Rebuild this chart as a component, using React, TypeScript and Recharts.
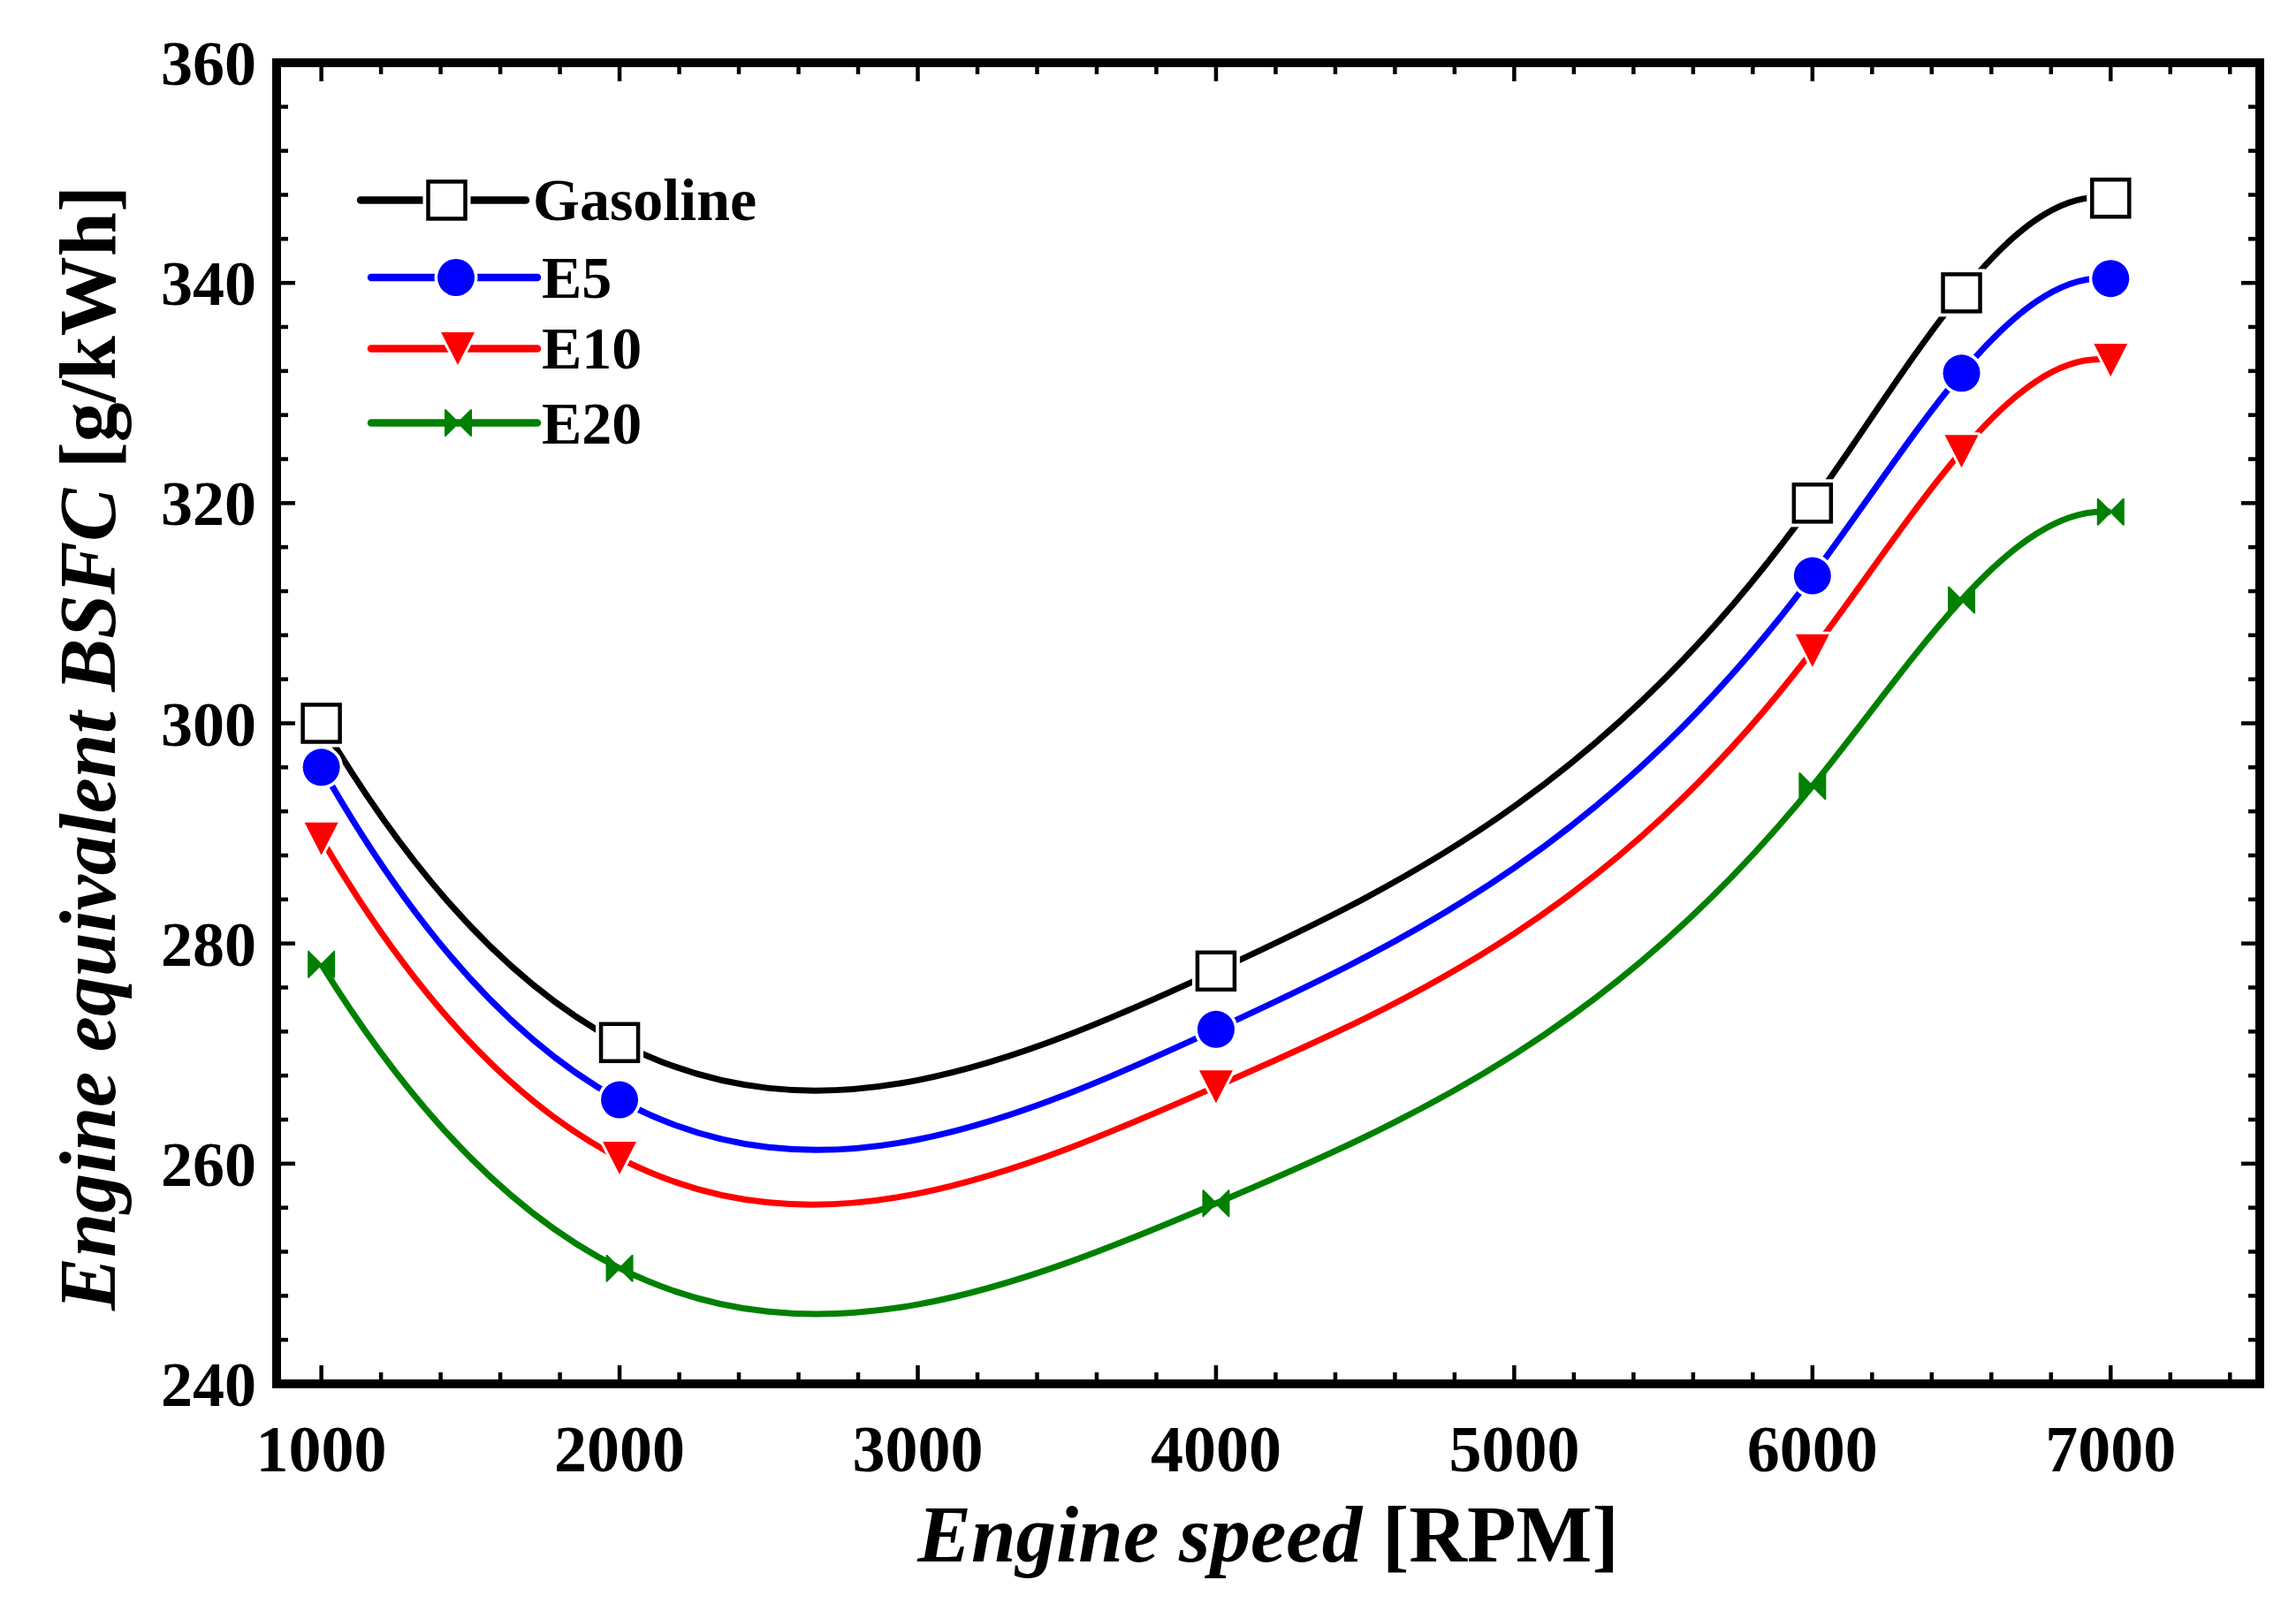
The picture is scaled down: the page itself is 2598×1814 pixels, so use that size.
import { LineChart, Line, XAxis, YAxis, Legend, Label } from 'recharts'

// Engine speed [RPM]
const rpm = [1000, 2000, 4000, 6000, 6500, 7000]
// BSFC values [g/kWh] per fuel
const gasoline = [300, 271, 277.5, 320, 339.1, 347.7]
const e5 = [296, 265.8, 272.2, 313.4, 331.8, 340.4]
const e10 = [289.5, 260.5, 267, 306.6, 324.7, 333]
const e20 = [278.1, 250.5, 256.4, 294.3, 311.2, 319.2]

const xMajorTicks = [1000, 2000, 3000, 4000, 5000, 6000, 7000]
const xMinorTicks = [
  1200, 1400, 1600, 1800, 2200, 2400, 2600, 2800, 3200, 3400, 3600, 3800,
  4200, 4400, 4600, 4800, 5200, 5400, 5600, 5800, 6200, 6400, 6600, 6800,
  7200, 7400,
]
const yMajorTicks = [240, 260, 280, 300, 320, 340, 360]
const yMinorTicks = [
  244, 248, 252, 256, 264, 268, 272, 276, 284, 288, 292, 296,
  304, 308, 312, 316, 324, 328, 332, 336, 344, 348, 352, 356,
]

const data = rpm.map((r, i) => ({
  rpm: r,
  gasoline: gasoline[i],
  e5: e5[i],
  e10: e10[i],
  e20: e20[i],
}))

type MarkerKind = 'square' | 'circle' | 'triangle' | 'bowtie'

const SERIES: { key: string; name: string; color: string; marker: MarkerKind }[] = [
  { key: 'gasoline', name: 'Gasoline', color: '#000000', marker: 'square' },
  { key: 'e5', name: 'E5', color: '#0000ff', marker: 'circle' },
  { key: 'e10', name: 'E10', color: '#ff0000', marker: 'triangle' },
  { key: 'e20', name: 'E20', color: '#008000', marker: 'bowtie' },
]

const FONT = "'Liberation Serif', 'Times New Roman', serif"

// cubic spline y(x) through the points (not-a-knot ends), drawn as bezier pieces
function splineX(context: any) {
  let xs: number[] = []
  let ys: number[] = []
  return {
    areaStart() {},
    areaEnd() {},
    lineStart() {
      xs = []
      ys = []
    },
    point(x: number, y: number) {
      xs.push(+x)
      ys.push(+y)
    },
    lineEnd() {
      const n = xs.length
      if (n === 0) return
      context.moveTo(xs[0], ys[0])
      if (n < 3) {
        for (let i = 1; i < n; i++) context.lineTo(xs[i], ys[i])
        return
      }
      const h: number[] = []
      const d: number[] = []
      for (let i = 0; i < n - 1; i++) {
        h.push(xs[i + 1] - xs[i])
        d.push((ys[i + 1] - ys[i]) / h[i])
      }
      const A = Array.from({ length: n }, () => new Array(n).fill(0))
      const rhs = new Array(n).fill(0)
      if (n >= 4) {
        A[0][0] = h[1]
        A[0][1] = -(h[0] + h[1])
        A[0][2] = h[0]
        A[n - 1][n - 3] = h[n - 2]
        A[n - 1][n - 2] = -(h[n - 3] + h[n - 2])
        A[n - 1][n - 1] = h[n - 3]
      } else {
        A[0][0] = 1
        A[n - 1][n - 1] = 1
      }
      for (let i = 1; i < n - 1; i++) {
        A[i][i - 1] = h[i - 1]
        A[i][i] = 2 * (h[i - 1] + h[i])
        A[i][i + 1] = h[i]
        rhs[i] = 6 * (d[i] - d[i - 1])
      }
      // gaussian elimination with partial pivoting
      for (let col = 0; col < n; col++) {
        let piv = col
        for (let row = col + 1; row < n; row++) {
          if (Math.abs(A[row][col]) > Math.abs(A[piv][col])) piv = row
        }
        ;[A[col], A[piv]] = [A[piv], A[col]]
        ;[rhs[col], rhs[piv]] = [rhs[piv], rhs[col]]
        for (let row = col + 1; row < n; row++) {
          const f = A[row][col] / A[col][col]
          for (let j = col; j < n; j++) A[row][j] -= f * A[col][j]
          rhs[row] -= f * rhs[col]
        }
      }
      const m = new Array(n).fill(0)
      for (let row = n - 1; row >= 0; row--) {
        let s = rhs[row]
        for (let j = row + 1; j < n; j++) s -= A[row][j] * m[j]
        m[row] = s / A[row][row]
      }
      for (let i = 0; i < n - 1; i++) {
        const s0 = d[i] - (h[i] * (2 * m[i] + m[i + 1])) / 6
        const s1 = d[i] + (h[i] * (m[i] + 2 * m[i + 1])) / 6
        context.bezierCurveTo(
          xs[i] + h[i] / 3,
          ys[i] + (s0 * h[i]) / 3,
          xs[i + 1] - h[i] / 3,
          ys[i + 1] - (s1 * h[i]) / 3,
          xs[i + 1],
          ys[i + 1]
        )
      }
    },
  }
}

function Marker({ kind, cx, cy, color }: { kind: MarkerKind; cx: number; cy: number; color: string }) {
  if (kind === 'square') {
    return (
      <g>
        <rect x={cx - 21} y={cy - 21} width={42} height={42} fill="#fff" stroke="#fff" strokeWidth={12} />
        <rect x={cx - 21} y={cy - 21} width={42} height={42} fill="#fff" stroke={color} strokeWidth={4.5} />
      </g>
    )
  }
  if (kind === 'circle') {
    return (
      <g>
        <circle cx={cx} cy={cy} r={21} fill="#fff" stroke="#fff" strokeWidth={7} />
        <circle cx={cx} cy={cy} r={21} fill={color} />
      </g>
    )
  }
  if (kind === 'triangle') {
    const pts = `${cx - 19},${cy - 18.5} ${cx + 19},${cy - 18.5} ${cx},${cy + 18.5}`
    return (
      <g>
        <polygon points={pts} fill="#fff" stroke="#fff" strokeWidth={6} strokeLinejoin="round" />
        <polygon points={pts} fill={color} />
      </g>
    )
  }
  const s = 14.5
  return (
    <g>
      <polygon
        points={`${cx - s},${cy - s} ${cx},${cy} ${cx - s},${cy + s}`}
        fill={color}
        stroke={color}
        strokeWidth={2}
        strokeLinejoin="round"
      />
      <polygon
        points={`${cx + s},${cy - s} ${cx},${cy} ${cx + s},${cy + s}`}
        fill={color}
        stroke={color}
        strokeWidth={2}
        strokeLinejoin="round"
      />
    </g>
  )
}

const XTick = (props: any) => {
  const { x, y, payload } = props
  return (
    <text x={x} y={y + 120} textAnchor="middle" fontFamily={FONT} fontWeight="bold" fontSize={74} fill="#000">
      {payload.value}
    </text>
  )
}

const YTick = (props: any) => {
  const { x, y, payload } = props
  return (
    <text x={x} y={y + 25} textAnchor="end" fontFamily={FONT} fontWeight="bold" fontSize={72} fill="#000">
      {payload.value}
    </text>
  )
}

// tick lines only, no text
const NoLabel = () => <g />

const legendRows = [
  { line: [18, 205], markerX: 115.5, y: 46.5, textX: 213, baseline: 69 },
  { line: [30, 218], markerX: 126, y: 134, textX: 223, baseline: 157 },
  { line: [30, 218], markerX: 128, y: 214.5, textX: 223, baseline: 237 },
  { line: [30, 218], markerX: 128.5, y: 298.5, textX: 223, baseline: 322 },
]

const LegendBox = () => (
  <svg width={520} height={340}>
    {SERIES.map((s, i) => {
      const row = legendRows[i]
      return (
        <g key={s.key}>
          <line
            x1={row.line[0]}
            x2={row.line[1]}
            y1={row.y}
            y2={row.y}
            stroke={s.color}
            strokeWidth={8.5}
            strokeLinecap="round"
          />
          <Marker kind={s.marker} cx={row.markerX} cy={row.y} color={s.color} />
          <text x={row.textX} y={row.baseline} fontFamily={FONT} fontWeight="bold" fontSize={68} fill="#000">
            {s.name}
          </text>
        </g>
      )
    })}
  </svg>
)

const axisLineStyle = { stroke: '#000', strokeWidth: 10, strokeLinecap: 'square' as const }
const tickLineStyle = { stroke: '#000', strokeWidth: 4.5 }

export default function App() {
  return (
    <div style={{ width: 2598, height: 1814, background: '#fff' }}>
      <style>{'body{margin:0;background:#fff}'}</style>
      <LineChart
        width={2598}
        height={1814}
        data={data}
        margin={{ top: 41, right: 11, bottom: 148, left: 213 }}
      >
        {/* bottom: labels + inward major ticks */}
        <XAxis
          xAxisId="x"
          dataKey="rpm"
          type="number"
          domain={[850, 7500]}
          allowDataOverflow
          ticks={xMajorTicks}
          interval={0}
          height={100}
          tickSize={-21}
          tickMargin={0}
          tickLine={tickLineStyle}
          axisLine={axisLineStyle}
          tick={<XTick />}
        >
          <Label
            content={(props: any) => {
              const vb = props.viewBox
              return (
                <text
                  x={vb.x + vb.width / 2}
                  y={vb.y + 201}
                  textAnchor="middle"
                  fontFamily={FONT}
                  fontWeight="bold"
                  fontSize={91}
                  fill="#000"
                >
                  <tspan fontStyle="italic">Engine speed</tspan>
                  <tspan> [RPM]</tspan>
                </text>
              )
            }}
          />
        </XAxis>
        <XAxis
          xAxisId="xMinor"
          dataKey="rpm"
          type="number"
          domain={[850, 7500]}
          allowDataOverflow
          orientation="bottom"
          mirror
          height={1}
          ticks={xMinorTicks}
          interval={0}
          tickSize={13}
          tick={<NoLabel />}
          tickLine={tickLineStyle}
          axisLine={false}
        />
        {/* top frame */}
        <XAxis
          xAxisId="xTop"
          dataKey="rpm"
          type="number"
          domain={[850, 7500]}
          allowDataOverflow
          orientation="top"
          height={30}
          ticks={xMajorTicks}
          interval={0}
          tickSize={-21}
          tick={<NoLabel />}
          tickLine={tickLineStyle}
          axisLine={axisLineStyle}
        />
        <XAxis
          xAxisId="xTopMinor"
          dataKey="rpm"
          type="number"
          domain={[850, 7500]}
          allowDataOverflow
          orientation="top"
          mirror
          height={1}
          ticks={xMinorTicks}
          interval={0}
          tickSize={13}
          tick={<NoLabel />}
          tickLine={tickLineStyle}
          axisLine={false}
        />
        {/* left: labels + inward major ticks */}
        <YAxis
          yAxisId="y"
          type="number"
          domain={[240, 360]}
          allowDataOverflow
          ticks={yMajorTicks}
          interval={0}
          width={100}
          tickSize={-21}
          tickMargin={44}
          tickLine={tickLineStyle}
          axisLine={axisLineStyle}
          tick={<YTick />}
        >
          <Label
            content={(props: any) => {
              const vb = props.viewBox
              const cx = vb.x - 83
              const cy = vb.y + vb.height / 2 + 28
              return (
                <text
                  x={cx}
                  y={cy}
                  transform={`rotate(-90 ${cx} ${cy})`}
                  textAnchor="middle"
                  fontFamily={FONT}
                  fontWeight="bold"
                  fontSize={90}
                  fill="#000"
                >
                  <tspan fontStyle="italic">Engine equivalent BSFC</tspan>
                  <tspan> [g/kWh]</tspan>
                </text>
              )
            }}
          />
        </YAxis>
        <YAxis
          yAxisId="yMinor"
          type="number"
          domain={[240, 360]}
          allowDataOverflow
          mirror
          width={1}
          ticks={yMinorTicks}
          interval={0}
          tickSize={13}
          tick={<NoLabel />}
          tickLine={tickLineStyle}
          axisLine={false}
        />
        {/* right frame */}
        <YAxis
          yAxisId="yRight"
          type="number"
          domain={[240, 360]}
          allowDataOverflow
          orientation="right"
          width={30}
          ticks={yMajorTicks}
          interval={0}
          tickSize={-21}
          tick={<NoLabel />}
          tickLine={tickLineStyle}
          axisLine={axisLineStyle}
        />
        <YAxis
          yAxisId="yRightMinor"
          type="number"
          domain={[240, 360]}
          allowDataOverflow
          orientation="right"
          mirror
          width={1}
          ticks={yMinorTicks}
          interval={0}
          tickSize={13}
          tick={<NoLabel />}
          tickLine={tickLineStyle}
          axisLine={false}
        />

        {SERIES.map((s) => (
          <Line
            key={s.key}
            xAxisId="x"
            yAxisId="y"
            dataKey={s.key}
            name={s.name}
            type={splineX as any}
            stroke={s.color}
            strokeWidth={7}
            isAnimationActive={false}
            activeDot={false}
            dot={(p: any) => (
              <Marker key={`${s.key}-${p.index}`} kind={s.marker} cx={p.cx} cy={p.cy} color={s.color} />
            )}
          />
        ))}

        <Legend
          layout="vertical"
          align="center"
          verticalAlign="middle"
          wrapperStyle={{ left: 390, top: 180, width: 520, height: 340 }}
          content={() => <LegendBox />}
        />
      </LineChart>
    </div>
  )
}
